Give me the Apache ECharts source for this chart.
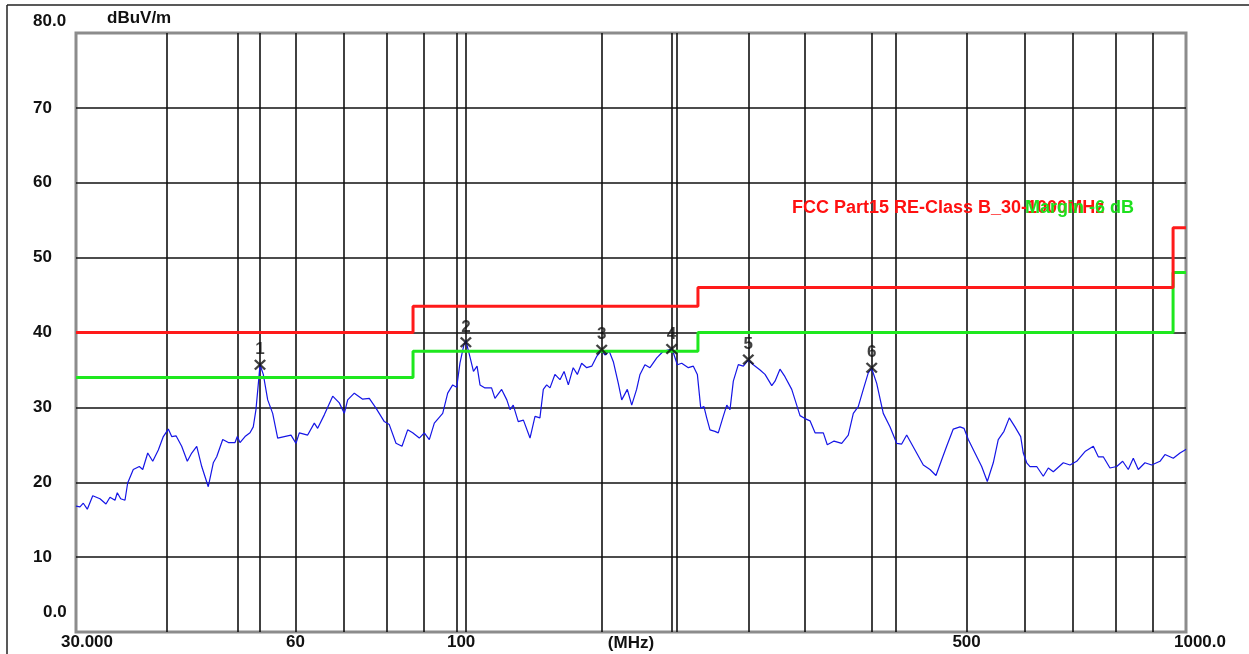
<!DOCTYPE html>
<html>
<head>
<meta charset="utf-8">
<script src="https://cdn.jsdelivr.net/npm/echarts@6/dist/echarts.min.js"></script>
<style>
html,body{margin:0;padding:0;background:#fff;}
#c{width:1249px;height:654px;}
</style>
</head>
<body>
<div id="c"></div>
<script>
// ---- data ----
const unitY = 'dBuV/m';
const unitX = '(MHz)';
const limitName = 'FCC Part15 RE-Class B_30-1000MHz';
const marginName = 'Margin -6 dB';

// measured spectrum trace [MHz, dBuV/m]
const trace = [
[30.0,16.8],[30.38,16.7],[30.70,17.2],[31.09,16.4],[31.63,18.2],[32.36,17.8],[32.98,17.1],[33.40,18.0],[33.93,17.6],[34.18,18.6],
[34.55,17.8],[35.02,17.6],[35.32,19.9],[35.95,21.7],[36.64,22.1],[37.04,21.7],[37.63,23.9],[38.23,22.8],[38.91,24.3],[39.53,26.1],
[40.16,27.1],[40.59,26.1],[41.15,26.2],[41.89,24.8],[42.64,22.8],[43.24,23.9],[43.93,24.8],[44.63,22.1],[45.56,19.4],[46.29,22.6],
[46.79,23.4],[47.69,25.7],[48.54,25.3],[49.58,25.3],[49.94,26.1],[50.36,25.3],[51.17,26.1],[51.98,26.6],[52.52,27.4],[52.97,29.7],
[53.43,33.7],[53.65,35.7],[54.21,34.4],[54.97,31.0],[55.84,29.2],[56.73,25.9],[57.93,26.1],[59.17,26.3],[60.11,25.2],[60.74,26.6],
[62.37,26.3],[63.69,27.9],[64.37,27.2],[65.73,29.0],[67.50,31.5],[68.92,30.6],[70.02,29.2],[70.77,31.0],[72.27,31.9],[74.21,31.1],
[75.77,31.2],[77.39,29.9],[79.45,28.1],[80.71,27.7],[82.44,25.2],[84.02,24.8],[85.54,27.0],[86.90,26.6],[88.74,25.9],[90.16,26.6],
[91.59,25.7],[93.05,27.9],[95.55,29.2],[97.07,31.9],[98.61,33.0],[99.87,32.7],[100.9,35.9],[102.2,38.4],[102.8,38.9],[104.1,36.8],
[105.3,34.8],[106.5,35.5],[107.5,33.0],[109.2,32.6],[111.5,32.6],[112.7,31.2],[115.1,32.4],[117.0,31.0],[118.2,29.7],[119.4,30.3],
[121.3,28.1],[123.3,28.3],[125.9,25.9],[127.9,28.8],[129.9,28.6],[131.3,32.4],[132.7,33.0],[134.1,32.6],[136.2,34.4],[138.4,33.7],
[140.2,34.8],[142.1,33.0],[144.3,35.3],[146.2,34.4],[148.2,35.9],[150.6,35.3],[153.0,35.5],[155.4,36.8],[157.9,37.6],[159.5,37.0],
[161.7,37.5],[163.8,36.1],[166.4,33.2],[168.2,31.0],[171.2,32.4],[173.6,30.3],[176.3,32.4],[178.2,34.4],[181.0,35.7],[183.9,35.3],
[187.9,36.6],[191.8,37.5],[196.9,37.8],[198.0,37.3],[200.5,35.7],[203.3,35.9],[207.6,35.3],[210.9,35.5],[213.6,34.4],[215.9,29.9],
[218.1,30.1],[220.0,28.6],[222.3,27.0],[225.8,26.8],[228.2,26.6],[231.8,28.8],[234.4,30.3],[236.8,29.7],[239.3,33.5],[243.1,35.7],
[247.0,35.5],[250.9,36.3],[254.9,35.7],[260.4,35.0],[264.5,34.4],[270.2,32.9],[273.0,33.5],[277.3,35.1],[281.7,34.1],[287.8,32.4],
[295.4,28.9],[300.1,28.5],[304.9,28.2],[309.8,26.6],[318.0,26.6],[322.0,25.0],[329.0,25.5],[337.0,25.2],[344.1,26.3],[349.6,29.2],
[355.1,30.1],[360.8,32.4],[366.5,34.6],[370.5,35.2],[376.4,33.2],[384.3,29.2],[392.5,27.4],[400.9,25.2],[407.3,25.1],[413.8,26.3],
[424.8,24.3],[436.1,22.3],[445.4,21.7],[453.9,20.9],[462.2,23.0],[469.5,24.8],[479.4,27.1],[489.7,27.4],[495.9,27.2],[502.7,25.7],
[513.4,23.9],[524.4,22.1],[533.8,20.1],[544.0,22.6],[552.6,25.7],[562.7,26.8],[572.2,28.6],[582.6,27.4],[593.2,26.1],[598.1,23.9],
[604.6,22.6],[610.9,22.1],[624.0,22.1],[637.1,20.8],[647.3,21.9],[657.6,21.4],[678.7,22.6],[693.2,22.3],[708.0,22.8],[726.8,24.1],
[746.2,24.8],[758.0,23.4],[770.0,23.4],[786.5,21.9],[803.4,22.1],[818.7,22.8],[833.3,21.7],[846.6,23.2],[860.1,21.7],[878.4,22.6],
[897.2,22.3],[921.1,22.8],[935.7,23.7],[960.6,23.2],[981.2,23.9],[996.8,24.3],[1000,24.4]
];

// limit lines (step edges in MHz, levels in dBuV/m)
const limitEdges = [30, 87, 214, 960, 1000];
const limitLevels = [40, 43.5, 46, 54];
const marginLevels = [34, 37.5, 40, 48];

// peak markers
const markerFreqs = [53.65, 102.8, 157.9, 196.9, 250.9, 370.5];
const markerLevels = [35.7, 38.7, 37.7, 37.8, 36.4, 35.3];

// grid / ticks
const xGridFreqs = [40, 50, 60, 70, 80, 90, 100, 200, 300, 400, 500, 600, 700, 800, 900];
const yGridLevels = [10, 20, 30, 40, 50, 60, 70];
const xTickValues = [30, 60, 100, 500, 1000];
const xTickTexts = ['30.000', '60', '100', '500', '1000.0'];

// ---- build ----
function steps(edges, levels) {
  const out = [];
  for (let i = 0; i < levels.length; i++) {
    out.push([edges[i], levels[i]]);
    out.push([edges[i + 1], levels[i]]);
  }
  return out;
}
const FONT = '"Liberation Sans", Arial, sans-serif';
const lbl = {fontSize: 17, fontWeight: 'bold', color: '#111', fontFamily: FONT};

const chart = echarts.init(document.getElementById('c'), null, {renderer: 'canvas'});
const X_X = 'path://M0 1.4L1.4 0L5 3.6L8.6 0L10 1.4L6.4 5L10 8.6L8.6 10L5 6.4L1.4 10L0 8.6L3.6 5Z';

chart.setOption({
  animation: false,
  backgroundColor: '#fff',
  title: [
    {text: limitName, left: 792, top: 199, padding: 0,
     textStyle: {color: '#ff1010', fontSize: 18, fontWeight: 'bold', fontFamily: FONT}},
    {text: marginName, right: 115, top: 199, padding: 0,
     textStyle: {color: '#1ee01e', fontSize: 18, fontWeight: 'bold', fontFamily: FONT}}
  ],
  graphic: [
    {type: 'line', shape: {x1: 7, y1: 5, x2: 1249, y2: 5}, style: {stroke: '#222', lineWidth: 1.5}},
    {type: 'line', shape: {x1: 7, y1: 5, x2: 7, y2: 654}, style: {stroke: '#222', lineWidth: 1.5}}
  ],
  grid: {left: 76, right: 63, top: 33, bottom: 22, show: true, borderColor: '#8c8c8c', borderWidth: 3,
         backgroundColor: '#fff', outerBoundsMode: 'none', containLabel: false},
  xAxis: {
    type: 'log', logBase: 10, min: 30, max: 1000,
    name: unitX, nameLocation: 'middle', nameGap: 3, nameMoveOverlap: false,
    nameTextStyle: Object.assign({verticalAlign: 'top'}, lbl),
    axisLine: {show: false}, axisTick: {show: false}, splitLine: {show: false}, minorTick: {show: false},
    axisLabel: Object.assign({}, lbl, {
      margin: 2,
      customValues: xTickValues,
      formatter: function (v) {
        const i = xTickValues.findIndex(t => Math.abs(t - v) < 1e-6);
        const t = i >= 0 ? xTickTexts[i] : '';
        if (i === 0) return '{a|' + t + '}';
        if (i === xTickValues.length - 1) return '{b|' + t + '}';
        if (i === 2) return '{c|' + t + '}';
        return t;
      },
      rich: {
        a: Object.assign({padding: [0, 0, 0, 22]}, lbl),
        b: Object.assign({padding: [0, 0, 0, 28]}, lbl),
        c: Object.assign({padding: [0, 0, 0, 8]}, lbl)
      }
    })
  },
  yAxis: {
    type: 'value', min: 0, max: 80, interval: 10,
    name: unitY, nameLocation: 'end', nameGap: 15, nameMoveOverlap: false,
    nameTextStyle: Object.assign({align: 'left', verticalAlign: 'middle', padding: [0, 0, 0, 31]}, lbl),
    axisLine: {show: false}, axisTick: {show: false}, splitLine: {show: false},
    axisLabel: Object.assign({}, lbl, {
      margin: 43, align: 'left',
      formatter: function (v) {
        if (v === 80) return '{t|80.0}';
        if (v === 0) return '{z|0.0}';
        return String(v);
      },
      rich: {
        t: Object.assign({padding: [0, 0, 24, 0]}, lbl),
        z: Object.assign({padding: [0, 0, 40, 10]}, lbl)
      }
    })
  },
  series: [
    {
      name: 'grid', type: 'line', data: [], z: 1, silent: true,
      markLine: {
        silent: true, symbol: 'none', animation: false, z: 1,
        label: {show: false},
        lineStyle: {type: 'solid', color: '#111', width: 1.6},
        emphasis: {disabled: true},
        data: xGridFreqs.map(f => ({xAxis: f}))
          .concat(yGridLevels.map(v => ({yAxis: v})))
          .concat(markerFreqs.map(f => ({xAxis: f})))
      }
    },
    {
      name: 'trace', type: 'line', data: trace, z: 3, silent: true,
      showSymbol: false, symbol: 'none',
      lineStyle: {color: '#1515e6', width: 1.2}
    },
    {
      name: marginName, type: 'line', data: steps(limitEdges, marginLevels), z: 4, silent: true,
      symbol: 'none', lineStyle: {color: '#1ee81e', width: 3}
    },
    {
      name: limitName, type: 'line', data: steps(limitEdges, limitLevels), z: 4, silent: true,
      symbol: 'none', lineStyle: {color: '#ff1a1a', width: 3}
    },
    {
      name: 'markers', type: 'scatter', z: 6, silent: true,
      data: markerFreqs.map((f, i) => [f, markerLevels[i]]),
      symbol: X_X, symbolSize: [12, 11],
      itemStyle: {color: '#111'},
      label: {
        show: true, position: 'top', distance: 1,
        formatter: p => String(p.dataIndex + 1),
        fontSize: 17, fontWeight: 'bold', color: '#111', fontFamily: FONT
      }
    }
  ]
});
</script>
</body>
</html>
